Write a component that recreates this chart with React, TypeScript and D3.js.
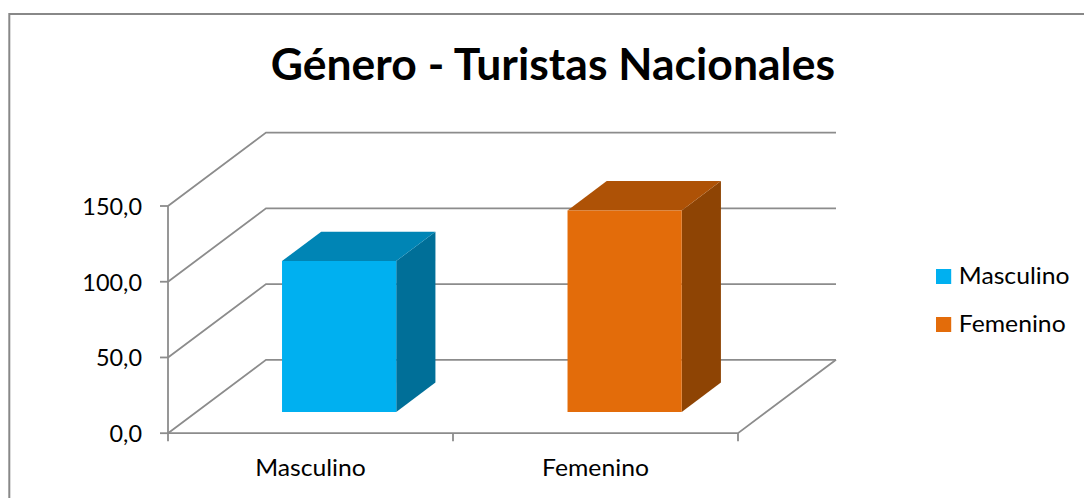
import React from 'react';
import * as d3 from 'd3';

const categories = ['Masculino', 'Femenino'];
const values = [99.6, 133];
const yTicks = [0, 50, 100, 150];
const frontColors = ['#00B0F0', '#E36C0A'];
const topColors = ['#0085B5', '#AE5206'];
const sideColors = ['#006F98', '#8E4404'];

const width = 1084;
const height = 498;
const fontFamily = 'Lato, "Open Sans", sans-serif';
const gridColor = '#8C8C8C';

// oblique 3D: how far the back wall is moved from the front of the floor
const depthX = 98;
const depthY = 73.4;

// the bars stand partway into the floor and are not as deep as it is
const barDepthStart = 0.29;
const barDepth = 0.4;

const x = d3.scaleBand().domain(categories).range([168, 738]);
const barX = d3.scaleBand().domain(categories).range([253.6, 653.3]).paddingInner(0.6);
const y = d3.scaleLinear().domain([0, 150]).range([433.2, 206]);

const project = (px: number, value: number, depth: number): [number, number] => [
  px + depth * depthX,
  y(value) - depth * depthY,
];

const poly = d3.line();
const tickLabel = (v: number) => v.toFixed(1).replace('.', ',');

// the picture is a little wider than it is tall, so letters get a small sideways stretch
const Label = ({ px, py, sx, size = 24, anchor = 'start', bold = false, children }: any) => (
  <text
    transform={`translate(${px},${py}) scale(${sx},1)`}
    textAnchor={anchor}
    fontSize={size}
    fontWeight={bold ? 700 : 400}
    fill="#000"
  >
    {children}
  </text>
);

export default function App() {
  const [x0, x1] = x.range();

  return (
    <svg
      width={width}
      height={height}
      style={{ position: 'absolute', left: 0, top: 0, background: '#fff', fontFamily }}
    >
      {/* chart border, only top and left are in the crop */}
      <path d="M9.3,498V14H1084" fill="none" stroke="#888" strokeWidth={2} />

      <Label px={552.8} py={80} sx={1.035} size={43} anchor="middle" bold>
        Género - Turistas Nacionales
      </Label>

      {/* wall gridlines */}
      {yTicks.map((t) => (
        <path
          key={t}
          d={poly([project(x0, t, 0), project(x0, t, 1), project(x1, t, 1)]) ?? ''}
          fill="none"
          stroke={gridColor}
          strokeWidth={1.8}
        />
      ))}

      {/* floor front and right edges */}
      <path
        d={poly([project(x0, 0, 0), project(x1, 0, 0), project(x1, 0, 1)]) ?? ''}
        fill="none"
        stroke={gridColor}
        strokeWidth={1.8}
      />

      {/* y axis */}
      <path d={poly([[x0, y(0)], [x0, y(150)]]) ?? ''} stroke={gridColor} strokeWidth={1.8} fill="none" />
      {yTicks.map((t) => (
        <g key={t}>
          <line x1={x0 - 8} x2={x0} y1={y(t)} y2={y(t)} stroke={gridColor} strokeWidth={1.8} />
          <Label px={142} py={y(t) + 9} sx={0.976} anchor="end">
            {tickLabel(t)}
          </Label>
        </g>
      ))}

      {/* x axis */}
      {[x0, (x0 + x1) / 2, x1].map((px) => (
        <line key={px} x1={px} x2={px} y1={y(0)} y2={y(0) + 8} stroke={gridColor} strokeWidth={1.8} />
      ))}
      {categories.map((c) => (
        <Label key={c} px={(x(c) ?? 0) + x.bandwidth() / 2} py={476} sx={1.03} anchor="middle">
          {c}
        </Label>
      ))}

      {/* bars */}
      {categories.map((c, i) => {
        const left = barX(c) ?? 0;
        const right = left + barX.bandwidth();
        const d0 = barDepthStart;
        const d1 = barDepthStart + barDepth;
        const v = values[i];
        const front = [project(left, 0, d0), project(right, 0, d0), project(right, v, d0), project(left, v, d0)];
        const top = [project(left, v, d0), project(right, v, d0), project(right, v, d1), project(left, v, d1)];
        const side = [project(right, 0, d0), project(right, 0, d1), project(right, v, d1), project(right, v, d0)];
        return (
          <g key={c}>
            <path d={(poly(side as [number, number][]) ?? '') + 'Z'} fill={sideColors[i]} />
            <path d={(poly(top as [number, number][]) ?? '') + 'Z'} fill={topColors[i]} />
            <path d={(poly(front as [number, number][]) ?? '') + 'Z'} fill={frontColors[i]} />
          </g>
        );
      })}

      {/* legend */}
      {categories.map((c, i) => (
        <g key={c}>
          <rect x={936} y={269 + i * 48} width={15.2} height={15} fill={frontColors[i]} />
          <Label px={958.8} py={284 + i * 48} sx={1.03}>
            {c}
          </Label>
        </g>
      ))}
    </svg>
  );
}
